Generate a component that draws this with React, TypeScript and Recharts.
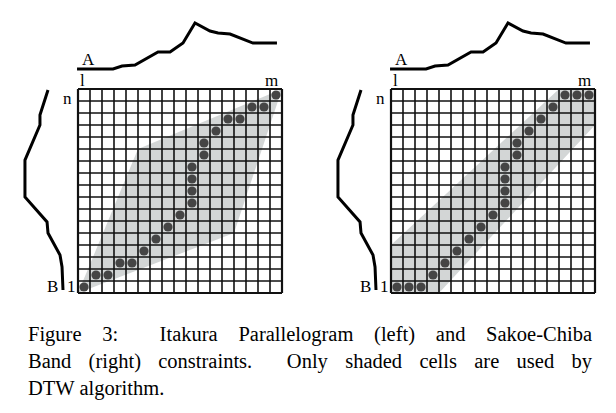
import React from 'react';
import { ComposedChart, XAxis, YAxis, Area, Scatter } from 'recharts';

const gridTicks = Array.from({ length: 18 }, (_, i) => i);

// warping paths: [column, row] from bottom-left cell
const itakuraPath = [[0,0],[1,1],[2,1],[3,2],[4,2],[5,3],[6,4],[7,5],[8,6],[9,7],[9,8],[9,9],[9,10],[10,11],[10,12],[11,13],[12,14],[13,14],[14,15],[15,15],[16,16]];
const sakoePath = [[0,0],[1,0],[2,0],[3,1],[4,2],[5,3],[6,4],[7,5],[8,6],[9,7],[9,8],[9,9],[9,10],[10,11],[10,12],[11,13],[12,14],[13,15],[14,16],[15,16],[16,16]];

// shaded regions: x with [lower, upper] bound in grid units
const itakuraBand = [
  { x: 0, r: [0, 0] },
  { x: 5, r: [1.92, 12] },
  { x: 13, r: [5, 15.33] },
  { x: 17, r: [17, 17] },
];
const sakoeBand = [
  { x: 0, r: [0, 4] },
  { x: 4, r: [0, 7.71] },
  { x: 14, r: [10.77, 17] },
  { x: 17, r: [14, 17] },
];

// time series A (above) and B (left), grid units
const seriesA = [[-0.08,18.67],[2.92,18.67],[3.67,18.92],[4.75,19],[6.67,20.08],[7.67,20.08],[8.75,20.83],[9.75,22.5],[11,21.83],[11.67,21.67],[12.67,21.58],[14.58,20.83],[16.58,20.83]];
const seriesB = [[-2.5,16.92],[-3.17,14.83],[-3.17,14],[-4.42,11.08],[-4.42,8],[-2.58,5.92],[-2.5,5],[-1.5,3.17],[-1.33,2.17],[-1.25,0.25]];

const serif = '"Liberation Serif", "DejaVu Serif", serif';

const toPts = (a: number[][]) => a.map(([x, y]) => ({ x, y }));
const toCells = (a: number[][]) => a.map(([c, r]) => ({ x: c + 0.5, y: r + 0.5 }));
const noDot = () => <g />;

const Label = ({ x, y, t }: { x: number; y: number; t: string }) => (
  <div style={{ position: 'absolute', left: x, top: y, fontFamily: serif, fontSize: 17, lineHeight: '17px' }}>{t}</div>
);

const Panel = ({ left, band, path }: { left: number; band: any[]; path: number[][] }) => (
  <div style={{ position: 'absolute', left, top: 0, width: 300, height: 300 }}>
    <ComposedChart width={300} height={300} margin={{ top: 0, right: 0, bottom: 0, left: 0 }}>
      <XAxis type="number" dataKey="x" domain={[-6.5, 18.5]} hide allowDataOverflow />
      <YAxis type="number" dataKey="y" domain={[-0.583, 24.417]} hide allowDataOverflow />
      {gridTicks.map((t) => (
        <Scatter key={'v' + t} data={[{ x: t, y: 0 }, { x: t, y: 17 }]} dataKey="y" line={{ stroke: '#111', strokeWidth: t === 0 || t === 17 ? 2.2 : 1.6 }} shape={noDot} isAnimationActive={false} />
      ))}
      {gridTicks.map((t) => (
        <Scatter key={'h' + t} data={[{ x: 0, y: t }, { x: 17, y: t }]} dataKey="y" line={{ stroke: '#111', strokeWidth: t === 0 || t === 17 ? 2.2 : 1.6 }} shape={noDot} isAnimationActive={false} />
      ))}
      <Area data={band} dataKey="r" type="linear" stroke="none" fill="#b5baba" fillOpacity={0.6} isAnimationActive={false} />
      <Scatter data={toPts(seriesA)} dataKey="y" line={{ stroke: '#000', strokeWidth: 3 }} shape={noDot} isAnimationActive={false} />
      <Scatter data={toPts(seriesB)} dataKey="y" line={{ stroke: '#000', strokeWidth: 3 }} shape={noDot} isAnimationActive={false} />
      <Scatter data={toCells(path)} dataKey="y" shape={(p: any) => <circle cx={p.cx} cy={p.cy} r={4.6} fill="#454545" />} isAnimationActive={false} />
    </ComposedChart>
    <Label x={82} y={51} t="A" />
    <Label x={80} y={72} t="l" />
    <Label x={265} y={72} t="m" />
    <Label x={63} y={90} t="n" />
    <Label x={47} y={278} t="B" />
    <Label x={67} y={278} t="1" />
  </div>
);

export default function App() {
  const line: React.CSSProperties = { fontFamily: serif, fontSize: 20.5, lineHeight: '27px', textAlign: 'justify', textAlignLast: 'justify' as any, width: 564 };
  return (
    <div style={{ position: 'absolute', left: 0, top: 0, width: 616, height: 413, background: '#fff' }}>
      <Panel left={0} band={itakuraBand} path={itakuraPath} />
      <Panel left={313} band={sakoeBand} path={sakoePath} />
      <div style={{ position: 'absolute', left: 28, top: 321 }}>
        <div style={line}>Figure 3:&nbsp; Itakura Parallelogram (left) and Sakoe-Chiba</div>
        <div style={line}>Band (right) constraints.&nbsp; Only shaded cells are used by</div>
        <div style={{ ...line, textAlignLast: 'left' as any }}>DTW algorithm.</div>
      </div>
    </div>
  );
}
